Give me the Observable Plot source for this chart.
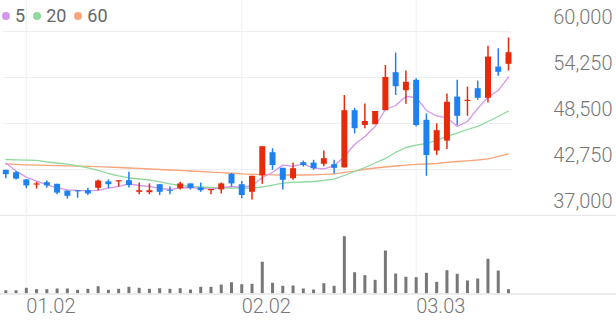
<!DOCTYPE html>
<html><head><meta charset="utf-8">
<script src="https://cdn.jsdelivr.net/npm/d3@7"></script>
<script src="https://cdn.jsdelivr.net/npm/@observablehq/plot@0.6"></script>
<style>
body{margin:0;background:#fff;font-family:Roboto,"Noto Sans",sans-serif;}
#chart{position:relative;width:616px;height:321px;overflow:hidden;background:#fff;}
#chart svg{position:absolute;left:0;display:block;background:transparent;}
#legend{position:absolute;left:2px;top:5px;font-size:18px;color:#666;display:flex;align-items:center;line-height:21px;z-index:2;}
#legend .it{display:flex;align-items:center;margin-right:8px;}
#legend .dot{width:8px;height:8px;border-radius:50%;margin-right:5px;}
</style></head>
<body>
<div id="chart"><div id="legend"></div></div>
<script>
// ---- data ----
const dateTickIndex = [2, 23, 40];
const dateTickLabels = ["01.02", "02.02", "03.03"];
const priceTicks = [37000, 42750, 48500, 54250, 60000];

const open  = [42650,42350,41450,40800,41100,40900,40050,40100,40100,40400,41200,41200,41350,39900,39850,40850,40100,40350,40950,40450,40100,40200,42150,40850,39900,41950,44850,42900,41600,43600,43550,43400,43350,42950,50100,48250,48350,50100,54850,52600,53900,48900,45050,46300,51800,51250,52850,51650,55550,55900];
const high  = [42650,42500,41500,41150,41300,40900,40050,40100,40400,41450,41450,41350,42400,41050,40950,40850,40550,41150,40950,41050,40250,41050,42250,41250,41900,45600,45350,42900,43550,43800,43900,45050,43900,52000,50400,50950,50000,55750,57300,55050,54100,49700,48450,52200,53900,53050,53800,58150,57850,59200];
const low   = [41600,41450,40350,40300,40400,39600,39050,39150,39500,40050,40350,40550,40450,39600,39600,39500,39600,40200,40200,39900,39600,39700,40550,39100,38950,40900,42650,40200,41400,43050,42650,43100,42200,42950,47200,47850,48350,50100,52000,50900,48050,41900,44500,45250,48250,49400,51400,51050,54400,55050];
const close = [42100,41550,40700,40950,40700,39800,39400,39950,39700,41300,40850,41350,40750,40100,40100,39900,40000,40950,40400,40100,40250,40950,40950,39500,41900,45600,43250,41400,42850,43250,42850,44100,42900,50100,47850,48750,50000,54250,53100,53650,48250,44500,47600,51150,49400,51400,51650,56800,54900,57350];
const volume = [82,82,142,108,108,125,125,92,118,182,92,118,168,142,118,132,118,132,100,168,168,225,282,232,242,795,268,192,200,125,100,258,192,1432,532,458,342,1075,500,418,408,518,292,582,492,325,375,868,575,108];
const ma5  = [43550,42550,41800,41300,40850,40450,40200,40130,40090,40130,40410,40630,40960,40750,40630,40380,40250,40460,40500,40380,40340,40440,40630,40500,40750,41750,42410,43300,43130,43460,42940,42840,43190,44380,45880,46880,48130,50250,50750,51880,51750,50130,49440,49210,48130,48750,50380,51790,52630,54310];
const ma20 = [44000,43960,43910,43880,43690,43560,43410,43190,42940,42630,42250,41940,41690,41560,41440,41190,40940,40750,40630,40560,40500,40460,40440,40410,40440,40560,40810,41040,41130,41190,41250,41380,41560,42000,42500,43000,43560,44130,44880,45500,45810,46000,46380,46880,47310,47750,48130,48750,49380,50060];
const ma60 = [43440,43380,43340,43300,43260,43240,43210,43180,43140,43100,43050,43000,42940,42880,42810,42750,42690,42630,42560,42500,42430,42350,42280,42210,42150,42100,42080,42060,42060,42060,42090,42130,42210,42380,42560,42780,42940,43060,43190,43290,43380,43440,43500,43630,43750,43840,43940,44090,44380,44690];
const maNames = ["5", "20", "60"];
const maColors = ["#d496ee", "#8fd99b", "#f7a47c"];

// ---- build ----
const UP = "#e62a0a", DOWN = "#1f80f0";
const n = open.length;
const idx = d3.range(n);
const candles = idx.map(i => ({i, o: open[i], h: high[i], l: low[i], c: close[i], v: volume[i]}));
const col = d => d.c >= d.o ? UP : DOWN;
const xScale = {type: "linear", domain: [0, n - 1], range: [5.3, 508], axis: null};
const fontStyle = {fontFamily: "Roboto, 'Noto Sans', sans-serif", background: "transparent"};
const maSeries = [ma60, ma20, ma5];
const maCols = [maColors[2], maColors[1], maColors[0]];

const pricePlot = Plot.plot({
  width: 616, height: 216, margin: 0,
  style: fontStyle,
  x: xScale,
  y: {domain: [37000, 60000], range: [215, 31], axis: null},
  marks: [
    Plot.ruleY(priceTicks.slice(1), {x1: -0.25, x2: 49.3, stroke: "#efefef", strokeWidth: 1}),
    Plot.ruleY([priceTicks[0]], {stroke: "#e9e9e9", strokeWidth: 1.5}),
    Plot.ruleX(dateTickIndex, {stroke: "#efefef", strokeWidth: 1}),
    ...maSeries.map((s, k) => Plot.line(idx, {x: d => d, y: d => s[d], stroke: maCols[k], strokeWidth: 1.3, curve: "linear"})),
    Plot.ruleX(candles, {x: "i", y1: "l", y2: "h", stroke: col, strokeWidth: 1.5}),
    Plot.ruleX(candles, {x: "i", y1: "o", y2: "c", stroke: col, strokeWidth: 6}),
    Plot.text(priceTicks, {y: d => d, text: d => d3.format(",")(d), frameAnchor: "right", lineAnchor: "middle", textAnchor: "end", dx: -4, dy: -14, fontSize: 20, fill: "#777", fontWeight: 300})
  ]
});
pricePlot.style.top = "0px";

const volumePlot = Plot.plot({
  width: 616, height: 105, marginTop: 0, marginBottom: 27.5, marginLeft: 0, marginRight: 0,
  style: fontStyle,
  x: xScale,
  y: {domain: [0, 1937.5], axis: null},
  marks: [
    Plot.ruleX(dateTickIndex, {stroke: "#efefef", strokeWidth: 1}),
    Plot.ruleX(candles, {x: "i", y1: 0, y2: "v", stroke: "#777", strokeWidth: 3}),
    Plot.ruleY([0], {stroke: "#e6e6e6", strokeWidth: 1.5}),
    Plot.text(dateTickIndex, {x: d => d, text: (d, i) => dateTickLabels[i], frameAnchor: "bottom", lineAnchor: "middle", textAnchor: "start", dx: 0, dy: 13, fontSize: 20, fill: "#777", fontWeight: 300})
  ]
});
volumePlot.style.top = "216px";

const chartDiv = document.getElementById("chart");
chartDiv.appendChild(pricePlot);
chartDiv.appendChild(volumePlot);

const legend = document.getElementById("legend");
maNames.forEach((nm, k) => {
  const it = document.createElement("span"); it.className = "it";
  const dot = document.createElement("span"); dot.className = "dot"; dot.style.background = maColors[k];
  const t = document.createElement("span"); t.textContent = nm;
  it.appendChild(dot); it.appendChild(t); legend.appendChild(it);
});
</script>
</body></html>
